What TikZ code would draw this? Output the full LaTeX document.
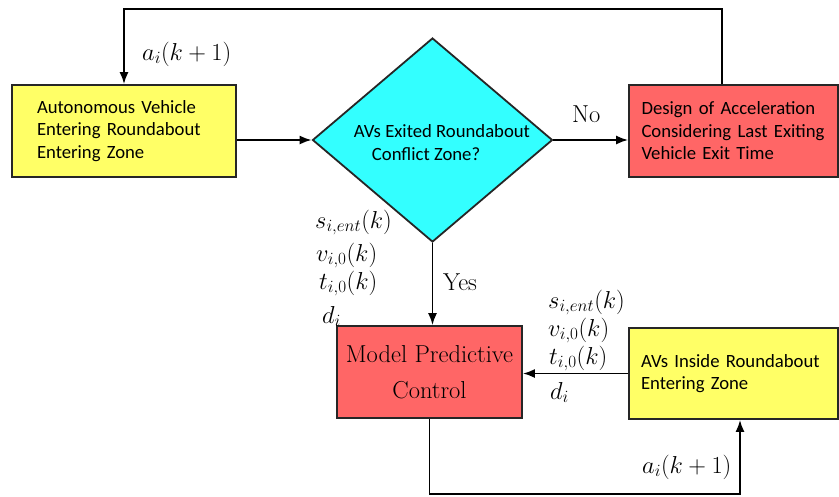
\RequirePackage{fix-cm}
\documentclass[tikz,border=0pt]{standalone}
\usepackage{fontspec}
\newfontfamily\calfont{Carlito}
\usetikzlibrary{shapes.geometric,arrows.meta,calc}
\definecolor{boxyellow}{RGB}{255,255,102}
\definecolor{boxcyan}{RGB}{51,255,255}
\definecolor{boxred}{RGB}{255,102,102}
\tikzset{
  box/.style={draw=black!85, line width=1.8pt, minimum height=92pt, inner sep=0pt,
    font=\calfont\fontsize{18.7}{22.5}\selectfont, align=left},
  conn/.style={line width=1.8pt, -{Latex[length=12pt,width=9pt]}},
  mlab/.style={font=\fontsize{24.5}{28}\selectfont, inner sep=0pt, anchor=base west}
}
\begin{document}
\begin{tikzpicture}[x=1pt,y=-1pt]
\useasboundingbox (0,0) rectangle (839,496);
% nodes
\node[box, fill=boxyellow, minimum width=224pt, text width=174pt] (av) at (124,131)
  {Autonomous Vehicle\\Entering Roundabout\\Entering Zone};
\node[draw=black!85, line width=1.8pt, fill=boxcyan, diamond, minimum width=240pt,
  minimum height=204pt, inner sep=0pt] (dec) at (432.5,140) {};
\node[font=\calfont\fontsize{18.7}{22.5}\selectfont, align=left, inner sep=0pt] (dect) at (442,142.5)
  {AVs Exited Roundabout\\\hspace*{18pt}Conflict Zone?};
\node[box, fill=boxred, minimum width=209pt, text width=184pt] (des) at (733.5,131)
  {Design of Acceleration\\Considering Last Exiting\\Vehicle Exit Time};
\node[box, fill=boxred, minimum width=185pt, font=\fontsize{24.5}{36}\selectfont, align=center] (mpc) at (429.5,372)
  {Model Predictive\\Control};
\node[box, fill=boxyellow, minimum width=209pt, minimum height=91pt, text width=185pt] (avs) at (733.5,373.5)
  {AVs Inside Roundabout\\Entering Zone};
% connectors
\draw[conn] (av.east |- dec.west) -- (dec.west);
\draw[conn] (dec.east) -- (dec.east -| des.west);
\coordinate (fbtop) at (722,9);
\draw[conn] (fbtop |- des.north) -- (fbtop) -| (av.north);
\draw[conn] (dec.south) -- (dec.south |- mpc.north);
\draw[conn] (avs.west) -- (avs.west -| mpc.east);
\coordinate (fbbot) at (740,494);
\draw[conn] (mpc.south) |- (fbbot) -- (fbbot |- avs.south);
% labels
\node[mlab] (a1) at (142,60) {$a_i(k+1)$};
\node[mlab] (no) at (572,122) {No};
\node[mlab] (yes) at (443,290) {Yes};
\node[mlab] (ls) at (315,228) {$s_{i,ent}(k)$};
\node[mlab] (lv) at (316,261) {$v_{i,0}(k)$};
\node[mlab] (lt) at (319,289) {$t_{i,0}(k)$};
\node[mlab] (ld) at (322,323) {$d_i$};
\node[mlab] (rs) at (548,308) {$s_{i,ent}(k)$};
\node[mlab] (rv) at (548,336) {$v_{i,0}(k)$};
\node[mlab] (rt) at (549,364) {$t_{i,0}(k)$};
\node[mlab] (rd) at (550,399) {$d_i$};
\node[mlab] (a2) at (642,473) {$a_i(k+1)$};
\end{tikzpicture}
\end{document}
